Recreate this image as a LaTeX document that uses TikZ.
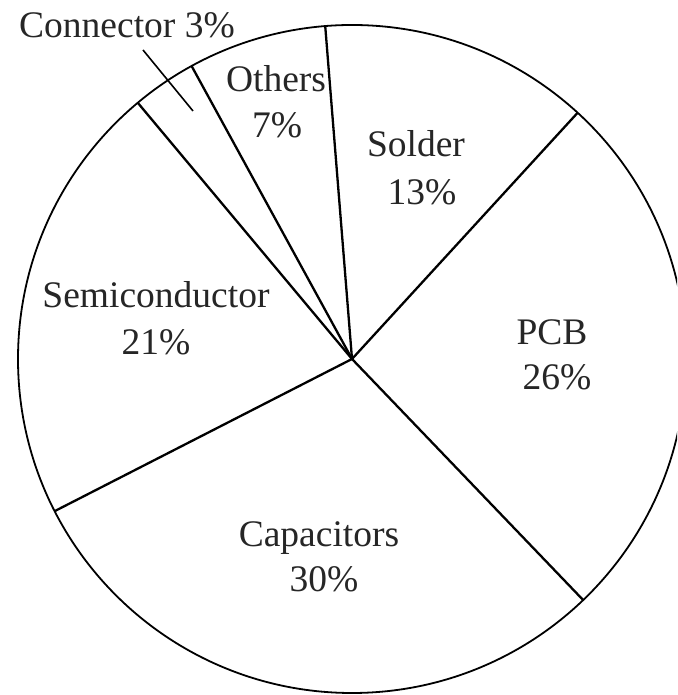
\documentclass[tikz,border=0pt]{standalone}
\usepackage{fontspec}
\setmainfont{Liberation Serif}
\usetikzlibrary{calc}
\begin{document}
\begin{tikzpicture}[x=1pt,y=1pt,
  rim/.style={draw=black, line width=1.8pt},
  spoke/.style={draw=black, line width=2.3pt},
  lbl/.style={anchor=base, inner sep=0pt, font=\fontsize{37.5}{45}\selectfont, text=black!85}]
\useasboundingbox (0,0) rectangle (677,695);
\clip (0,0) rectangle (677,695);
\fill[white] (0,0) rectangle (677,695);

% centre of the pie and its radius
\coordinate (O) at (352,336);
\def\R{334}

% slice boundaries on the rim
\coordinate (bPcbSolder)   at ($(O)+(47.5:\R)$);
\coordinate (bSolderOther) at ($(O)+(94.6:\R)$);
\coordinate (bOtherConn)   at ($(O)+(118.7:\R)$);
\coordinate (bConnSemi)    at ($(O)+(129.9:\R)$);
\coordinate (bSemiCap)     at ($(O)+(207.1:\R)$);
\coordinate (bCapPcb)      at ($(O)+(313.8:\R)$);

\draw[rim] (O) circle (\R);
\foreach \b in {bPcbSolder,bSolderOther,bOtherConn,bConnSemi,bSemiCap,bCapPcb}
  \draw[spoke] (O) -- (\b);

% labels
\node[lbl] (tPcb)    at (552,350) {PCB};
\node[lbl] (pPcb)    at (557,305) {26\%};
\node[lbl] (tSolder) at (416,538) {Solder};
\node[lbl] (pSolder) at (422,490) {13\%};
\node[lbl] (tOther)  at (276,603) {Others};
\node[lbl] (pOther)  at (277,557) {7\%};
\node[lbl] (tSemi)   at (156,387) {Semiconductor};
\node[lbl] (pSemi)   at (156,340) {21\%};
\node[lbl] (tCap)    at (319,148) {Capacitors};
\node[lbl] (pCap)    at (324,103) {30\%};
\node[lbl] (tConn)   at (127,657) {Connector 3\%};

% leader from the connector label into its slice
\coordinate (cA) at (143,645);
\coordinate (cB) at (193,584);
\draw[line width=1.6pt] (cA) -- (cB);
\end{tikzpicture}
\end{document}
